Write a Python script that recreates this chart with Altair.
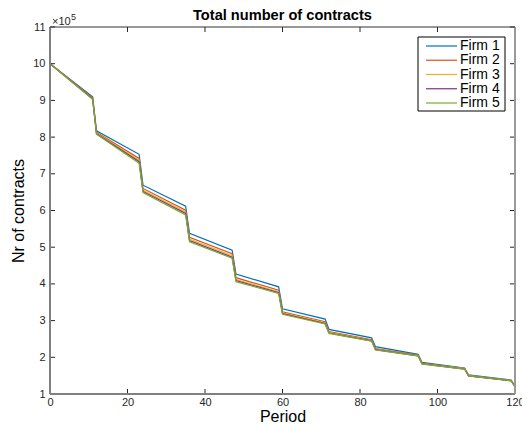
import altair as alt
import pandas as pd

# Period knots: contracts decline linearly inside each year and drop at year change
periods = [0, 11, 12, 23, 24, 35, 36, 47, 48, 59, 60, 71, 72, 83, 84, 95, 96, 107, 108, 119, 120]

# Total number of contracts per firm, in units of 10^5
firm1 = [10.0, 9.10, 8.17, 7.53, 6.69, 6.12, 5.38, 4.92, 4.27, 3.92, 3.32, 3.04, 2.76, 2.53, 2.29, 2.08, 1.86, 1.71, 1.52, 1.38, 1.20]
firm2 = [10.0, 9.07, 8.13, 7.42, 6.60, 6.01, 5.27, 4.82, 4.17, 3.83, 3.24, 2.97, 2.70, 2.48, 2.24, 2.06, 1.84, 1.69, 1.50, 1.37, 1.20]
firm3 = [10.0, 9.05, 8.11, 7.37, 6.55, 5.96, 5.22, 4.77, 4.12, 3.79, 3.21, 2.94, 2.68, 2.46, 2.22, 2.05, 1.83, 1.69, 1.50, 1.37, 1.20]
firm4 = [10.0, 9.04, 8.09, 7.33, 6.52, 5.92, 5.18, 4.73, 4.09, 3.76, 3.19, 2.92, 2.66, 2.45, 2.21, 2.04, 1.82, 1.68, 1.49, 1.36, 1.20]
firm5 = [10.0, 9.03, 8.08, 7.29, 6.49, 5.88, 5.15, 4.70, 4.06, 3.74, 3.17, 2.91, 2.65, 2.44, 2.20, 2.04, 1.82, 1.68, 1.49, 1.36, 1.20]

firm_names = ["Firm 1", "Firm 2", "Firm 3", "Firm 4", "Firm 5"]
firm_colors = ["#0072BD", "#D95319", "#EDB120", "#7E2F8E", "#77AC30"]

x_ticks = [0, 20, 40, 60, 80, 100, 120]
y_ticks = [1, 2, 3, 4, 5, 6, 7, 8, 9, 10, 11]

rows = []
for name, vals in zip(firm_names, [firm1, firm2, firm3, firm4, firm5]):
    for p, v in zip(periods, vals):
        rows.append({"Period": p, "Contracts": v, "Firm": name})
df = pd.DataFrame(rows)

W, H = 465, 367
FONT = "Liberation Sans"
AX = "#262626"

xs = alt.Scale(domain=[0, 120], nice=False, zero=False)
ys = alt.Scale(domain=[1, 11], nice=False, zero=False)

# One axis definition per channel, shared by every layer so they merge cleanly
x_axis = alt.Axis(values=x_ticks, title="Period", format="d", ticks=False,
                  labelPadding=2, titlePadding=1, domain=False, grid=False,
                  labelFlush=False, labelOverlap=False)
y_axis = alt.Axis(values=y_ticks, title="Nr of contracts", format="d", ticks=False,
                  labelPadding=5, titlePadding=6, domain=False, grid=False,
                  labelFlush=False, labelOverlap=False)

color = alt.Color("Firm:N", scale=alt.Scale(domain=firm_names, range=firm_colors), legend=None)

lines = alt.Chart(df).mark_line(strokeWidth=1.2, clip=True).encode(
    x=alt.X("Period:Q", scale=xs, axis=x_axis),
    y=alt.Y("Contracts:Q", scale=ys, axis=y_axis),
    color=color,
)

xdf = pd.DataFrame({"t": x_ticks})
ydf = pd.DataFrame({"t": y_ticks})
one = pd.DataFrame({"k": [0]})

# Inward tick marks on all four sides of the boxed frame
tick_bottom = alt.Chart(xdf).mark_rule(color=AX, strokeWidth=1).encode(
    x=alt.X("t:Q", scale=xs, axis=x_axis), y=alt.value(H - 5), y2=alt.value(H))
tick_top = alt.Chart(xdf).mark_rule(color=AX, strokeWidth=1).encode(
    x=alt.X("t:Q", scale=xs, axis=x_axis), y=alt.value(0), y2=alt.value(5))
tick_left = alt.Chart(ydf).mark_rule(color=AX, strokeWidth=1).encode(
    y=alt.Y("t:Q", scale=ys, axis=y_axis), x=alt.value(0), x2=alt.value(5))
tick_right = alt.Chart(ydf).mark_rule(color=AX, strokeWidth=1).encode(
    y=alt.Y("t:Q", scale=ys, axis=y_axis), x=alt.value(W - 5), x2=alt.value(W))

# Axis frame: grey left/bottom/right, dark top edge
frame_left = alt.Chart(one).mark_rule(color="#808080", strokeWidth=2).encode(
    x=alt.value(0), y=alt.value(0), y2=alt.value(H))
frame_bottom = alt.Chart(one).mark_rule(color="#808080", strokeWidth=2).encode(
    x=alt.value(0), x2=alt.value(W), y=alt.value(H))
frame_right = alt.Chart(one).mark_rule(color="#9a9a9a", strokeWidth=2).encode(
    x=alt.value(W), y=alt.value(0), y2=alt.value(H))
frame_top = alt.Chart(one).mark_rule(color="#333333", strokeWidth=1).encode(
    x=alt.value(0), x2=alt.value(W), y=alt.value(0))

# Scale factor note above the y axis
exp_base = alt.Chart(one).mark_text(
    text="×10", font=FONT, fontSize=11, color=AX, align="left", baseline="alphabetic"
).encode(x=alt.value(2), y=alt.value(-2))
exp_pow = alt.Chart(one).mark_text(
    text="5", font=FONT, fontSize=9, color=AX, align="left", baseline="alphabetic"
).encode(x=alt.value(21), y=alt.value(-7))

title = alt.Chart(one).mark_text(
    text="Total number of contracts", font=FONT, fontSize=14.6, fontWeight="bold",
    color="#000000", align="center", baseline="alphabetic"
).encode(x=alt.value(W / 2), y=alt.value(-7))

# Boxed legend in the upper-right corner
leg_df = pd.DataFrame({"Firm": firm_names, "row": list(range(len(firm_names)))})
leg_y = alt.Y("row:O", scale=alt.Scale(domain=list(range(len(firm_names))), range=[19, 76],
                                       type="point", padding=0), axis=None)
leg_box = alt.Chart(one).mark_rect(fill="#ffffff", stroke="#000000", strokeWidth=1).encode(
    x=alt.value(368), x2=alt.value(455), y=alt.value(10), y2=alt.value(84))
leg_lines = alt.Chart(leg_df).mark_rule(strokeWidth=1.2).encode(
    y=leg_y, x=alt.value(376), x2=alt.value(407), color=color)
leg_text = alt.Chart(leg_df).mark_text(
    font=FONT, fontSize=14, color="#000000", align="left", baseline="middle"
).encode(y=leg_y, x=alt.value(410), text="Firm:N")
legend = alt.layer(leg_box, leg_lines, leg_text)

main = alt.layer(
    lines, tick_bottom, tick_top, tick_left, tick_right,
    frame_left, frame_bottom, frame_right, frame_top, exp_base, exp_pow, title
)

chart = alt.layer(main, legend).resolve_scale(y="independent").properties(
    width=W, height=H,
    autosize=alt.AutoSizeParams(type="none"),
    padding={"left": 50, "top": 27, "right": 7, "bottom": 31},
).configure_view(stroke=None).configure_axis(
    labelFont=FONT, labelFontSize=11, labelColor=AX,
    titleFont=FONT, titleFontSize=16, titleFontWeight="normal", titleColor="#000000",
)

chart.save("out.html", embed_options={"renderer": "svg", "actions": False})
